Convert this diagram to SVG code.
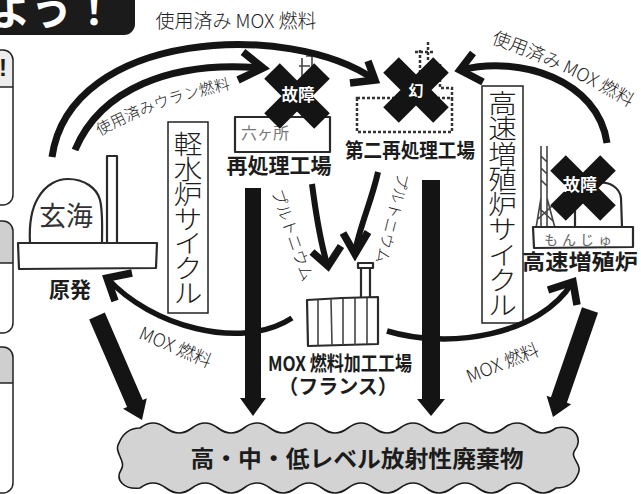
<svg xmlns="http://www.w3.org/2000/svg" width="641" height="494" viewBox="0 0 641 494">
  <style>
    text { font-family: "Noto Sans CJK JP", "Noto Sans CJK SC", "Noto Sans", sans-serif; fill: #1c1c1c; }
    .lbl { font-weight: 700; text-anchor: middle; }
    .thin { font-weight: 300; }
    .vtxt { font-weight: 300; text-anchor: middle; font-size: 26px; }
    .arc { fill: none; stroke: #141414; stroke-width: 7; }
    .mox { stroke-width: 5.5; }
    .pu { stroke-width: 6; }
    .chev { fill: none; stroke: #141414; stroke-width: 7.5; stroke-linejoin: miter; }
    .bar { fill: #141414; }
    .cross { stroke: #141414; stroke-width: 22; fill: none; }
    .cross-txt { fill: #fff; font-weight: 700; text-anchor: middle; }
    .sketch { fill: #fff; stroke: #2a2a2a; stroke-width: 2.2; stroke-linejoin: round; }
    .pencil { fill: none; stroke: #444; stroke-width: 1.6; }
    .dots { fill: none; stroke: #333; stroke-width: 2.5; stroke-dasharray: 3 2; }
    .vbox { fill: #fff; stroke: #222; stroke-width: 1.5; }
    .panel { fill: none; stroke: #222; stroke-width: 1.5; }
  </style>
  <defs>
    <path id="uranPath" d="M 100,136 Q 155,104 235,88"/>
    <path id="moxBackPath" d="M 491,43 Q 575,72 644,117"/>
    <path id="x" d="M -25,-25 L 25,25 M 25,-25 L -25,25"/>
  </defs>

  <rect width="641" height="494" fill="#fff"/>

  <!-- heading strip, cut at the left edge -->
  <g id="banner">
    <rect x="-20" y="-20" width="155" height="55" rx="11" fill="#1b1b1b"/>
    <text x="-11" y="25" font-size="42" font-weight="700" style="fill:#fff">よう！</text>
  </g>

  <!-- side panels, cut at the left edge -->
  <g id="side-panels">
    <rect x="-20" y="50" width="33" height="155" rx="10" fill="#fff"/>
    <path d="M -20,50 H 3 A 10 10 0 0 1 13,60 V 87 H -20 Z" fill="#ededed"/>
    <text x="-1" y="76" font-size="24" font-weight="900" style="font-family:'Liberation Sans',sans-serif">!</text>
    <rect class="panel" x="-20" y="50" width="33" height="155" rx="10"/>
    <line class="panel" x1="-20" y1="87" x2="13" y2="87"/>

    <rect x="-20" y="221" width="33" height="112" rx="10" fill="#fff"/>
    <path d="M -20,221 H 3 A 10 10 0 0 1 13,231 V 263 H -20 Z" fill="#cfcfcf"/>
    <rect class="panel" x="-20" y="221" width="33" height="112" rx="10"/>
    <line class="panel" x1="-20" y1="263" x2="13" y2="263"/>

    <rect x="-20" y="347" width="33" height="146" rx="10" fill="#fff"/>
    <path d="M -20,347 H 3 A 10 10 0 0 1 13,357 V 383 H -20 Z" fill="#cfcfcf"/>
    <rect class="panel" x="-20" y="347" width="33" height="146" rx="10"/>
    <line class="panel" x1="-20" y1="383" x2="13" y2="383"/>
  </g>

  <!-- waste cloud -->
  <g id="node-waste">
    <path d="M 140,428 Q 153,418 166,428 T 192,428 T 218,428 T 244,428 T 270,428 T 296,428 T 322,428 T 348,428 T 374,428 T 400,428 T 426,428 T 452,428 T 478,428 T 504,428 T 530,428 T 556,428
             C 576,424 583,440 575,450 C 569,458 583,464 578,474 C 574,484 566,488 556,488
             Q 543,498 530,488 T 504,488 T 478,488 T 452,488 T 426,488 T 400,488 T 374,488 T 348,488 T 322,488 T 296,488 T 270,488 T 244,488 T 218,488 T 192,488 T 166,488 T 140,488
             C 124,490 115,480 121,470 C 127,461 113,452 119,443 C 123,433 130,428 140,428 Z"
          fill="#d3d3d3" stroke="#1a1a1a" stroke-width="1.6"/>
    <text class="lbl" x="357" y="467" font-size="23" textLength="333" lengthAdjust="spacingAndGlyphs">高・中・低レベル放射性廃棄物</text>
  </g>

  <!-- light-water reactor: Genkai -->
  <g id="node-genpatsu">
    <path class="sketch" d="M 30,243 C 29,225 32,208 38,198 C 46,184 58,179 68,179 C 84,179 97,188 100,200 C 103,212 102,228 102,243"/>
    <rect class="sketch" x="107" y="156" width="10" height="88"/>
    <path class="sketch" stroke-width="2.6" d="M 18,243 L 157,243 L 156,268 L 19,269 Z"/>
    <text x="66" y="226" font-size="27" text-anchor="middle" style="fill:#333">玄海</text>
    <text class="lbl" x="70" y="297" font-size="21">原発</text>
  </g>

  <!-- Rokkasho reprocessing plant -->
  <g id="node-rokkasho">
    <path class="pencil" d="M 302,80 L 302,58 M 306,56 L 312,56 L 312,68 M 299,66 L 310,66"/>
    <rect class="sketch" x="235" y="117" width="95" height="35"/>
    <text x="241" y="139" font-size="16" style="fill:#777">六ヶ所</text>
    <use href="#x" class="cross" transform="translate(297,96)"/>
    <text class="cross-txt" x="298" y="101" font-size="16.5">故障</text>
    <text class="lbl" x="279" y="173" font-size="21">再処理工場</text>
  </g>

  <!-- second reprocessing plant (never built) -->
  <g id="node-daini">
    <path class="dots" d="M 420,98 L 420,48 M 428,42 L 428,60 M 415,52 L 433,52 M 440,64 L 440,88 L 452,88 L 452,98"/>
    <rect class="dots" x="357" y="98" width="95" height="34"/>
    <use href="#x" class="cross" transform="translate(416,90)"/>
    <text class="cross-txt" x="416" y="96" font-size="15">幻</text>
    <text class="lbl" x="410" y="158" font-size="20" textLength="130" lengthAdjust="spacingAndGlyphs">第二再処理工場</text>
  </g>

  <!-- MOX fuel fabrication plant -->
  <g id="node-mox-plant">
    <rect x="297" y="258" width="93" height="92" fill="#fff"/>
    <rect class="sketch" x="361" y="267" width="9" height="31"/>
    <rect class="sketch" x="358" y="263" width="15" height="5"/>
    <path class="sketch" d="M 307,300 L 342,298 L 378,297 L 378,344 L 308,346 Z"/>
    <path class="pencil" d="M 318,300 L 318,345 M 331,299 L 332,345 M 343,299 L 343,345 M 355,298 L 355,345 M 367,298 L 367,344"/>
    <text class="lbl" x="340" y="371" font-size="20" textLength="144" lengthAdjust="spacingAndGlyphs">MOX 燃料加工工場</text>
    <text class="lbl" x="338" y="394" font-size="20">（フランス）</text>
  </g>

  <!-- fast breeder reactor: Monju -->
  <g id="node-monju">
    <path class="pencil" stroke="#333" stroke-width="2" d="M 541,146 L 541,228 M 547,146 L 547,228 M 541,156 L 547,162 M 541,168 L 547,174 M 541,180 L 547,186 M 536,228 L 541,198 M 555,228 L 547,198 M 538,219 L 552,206 M 539,208 L 553,221"/>
    <path class="sketch" fill="none" d="M 575,227 L 575,200 C 580,178 618,176 621,198 L 622,227"/>
    <path class="sketch" d="M 533,227 L 633,227 L 633,247 L 534,248 Z"/>
    <text x="580" y="245" font-size="14" text-anchor="middle" letter-spacing="4" style="fill:#666">もんじゅ</text>
    <use href="#x" class="cross" transform="translate(583,188)"/>
    <text class="cross-txt" x="580" y="191" font-size="17">故障</text>
    <text class="lbl" x="580" y="269" font-size="21" textLength="116" lengthAdjust="spacingAndGlyphs">高速増殖炉</text>
  </g>

  <!-- cycle captions, written top to bottom -->
  <g id="cycle-lwr">
    <rect class="vbox" x="168" y="122" width="40" height="191"/>
    <text class="vtxt" transform="translate(188,0) scale(1.1,1)">
      <tspan x="0" y="154.5">軽</tspan><tspan x="0" y="179.2">水</tspan><tspan x="0" y="203.9">炉</tspan><tspan x="0" y="228.6">サ</tspan><tspan x="0" y="253.3">イ</tspan><tspan x="0" y="278">ク</tspan><tspan x="0" y="302.7">ル</tspan>
    </text>
  </g>
  <g id="cycle-fbr">
    <rect class="vbox" x="482" y="86" width="41" height="237"/>
    <text class="vtxt" transform="translate(502.5,0) scale(1.1,1)">
      <tspan x="0" y="113">高</tspan><tspan x="0" y="138.3">速</tspan><tspan x="0" y="163.6">増</tspan><tspan x="0" y="188.9">殖</tspan><tspan x="0" y="214.2">炉</tspan><tspan x="0" y="239.5">サ</tspan><tspan x="0" y="264.8">イ</tspan><tspan x="0" y="290.1">ク</tspan><tspan x="0" y="315.4">ル</tspan>
    </text>
  </g>

  <!-- flows -->
  <g id="connectors">
    <!-- spent fuel routes -->
    <path class="arc" d="M 52,157 C 70,30 290,20 375,80"/>
    <path class="chev" d="M 368,61 L 375,80 L 350,83"/>
    <path class="arc" d="M 75,150 C 100,90 170,60 262,68"/>
    <path class="chev" d="M 243,52 L 263,68 L 238,80"/>
    <path class="arc" d="M 607,143 C 598,80 520,55 461,70"/>
    <path class="chev" d="M 473,53 L 460,70 L 483,82"/>

    <!-- plutonium to MOX plant -->
    <path class="arc pu" d="M 312,184 C 316,215 320,240 327,264"/>
    <path class="chev" d="M 312,252 L 328,266 L 341,246"/>
    <path class="arc pu" d="M 378,172 C 372,200 360,225 355,252"/>
    <path class="chev" d="M 343,233 L 355,254 L 368,232"/>

    <!-- MOX fuel deliveries -->
    <path class="arc mox" d="M 292,318 C 240,352 150,325 108,279"/>
    <path class="chev" d="M 132,273 L 107,278 L 115,301"/>
    <path class="arc mox" d="M 387,331 C 450,350 540,335 572,283"/>
    <path class="chev" d="M 548,290 L 573,282 L 577,305"/>

    <!-- waste streams -->
    <polygon class="bar" points="104.8,312.6 142.7,400.1 146.8,398.3 142,420 123.0,408.7 127.1,406.9 89.2,319.4"/>
    <polygon class="bar" points="245,188 261,188 261,398 266,398 253,416 240,398 245,398"/>
    <polygon class="bar" points="422,180 440,180 440,399 445,399 431,416 417,399 422,399"/>
    <polygon class="bar" points="598.0,312.8 566.9,402.8 571.2,404.3 553,417 546.6,395.7 550.9,397.2 582.0,307.2"/>
  </g>

  <!-- flow captions -->
  <g id="flow-labels">
    <text class="thin" x="236" y="28" font-size="19" text-anchor="middle">使用済み MOX 燃料</text>
    <text class="thin" font-size="15.5"><textPath href="#uranPath">使用済みウラン燃料</textPath></text>
    <text class="thin" font-size="18"><textPath href="#moxBackPath">使用済み MOX 燃料</textPath></text>
    <text class="thin" font-size="16" text-anchor="middle" transform="translate(287,237) rotate(71)">プルトニウム</text>
    <text class="thin" font-size="15.5" text-anchor="middle" transform="translate(387,217) rotate(104)">プルトニウム</text>
    <text class="thin" font-size="18" text-anchor="middle" transform="translate(173,353) rotate(23)">MOX 燃料</text>
    <text class="thin" font-size="18" text-anchor="middle" transform="translate(505,369) rotate(-22)">MOX 燃料</text>
  </g>
</svg>
